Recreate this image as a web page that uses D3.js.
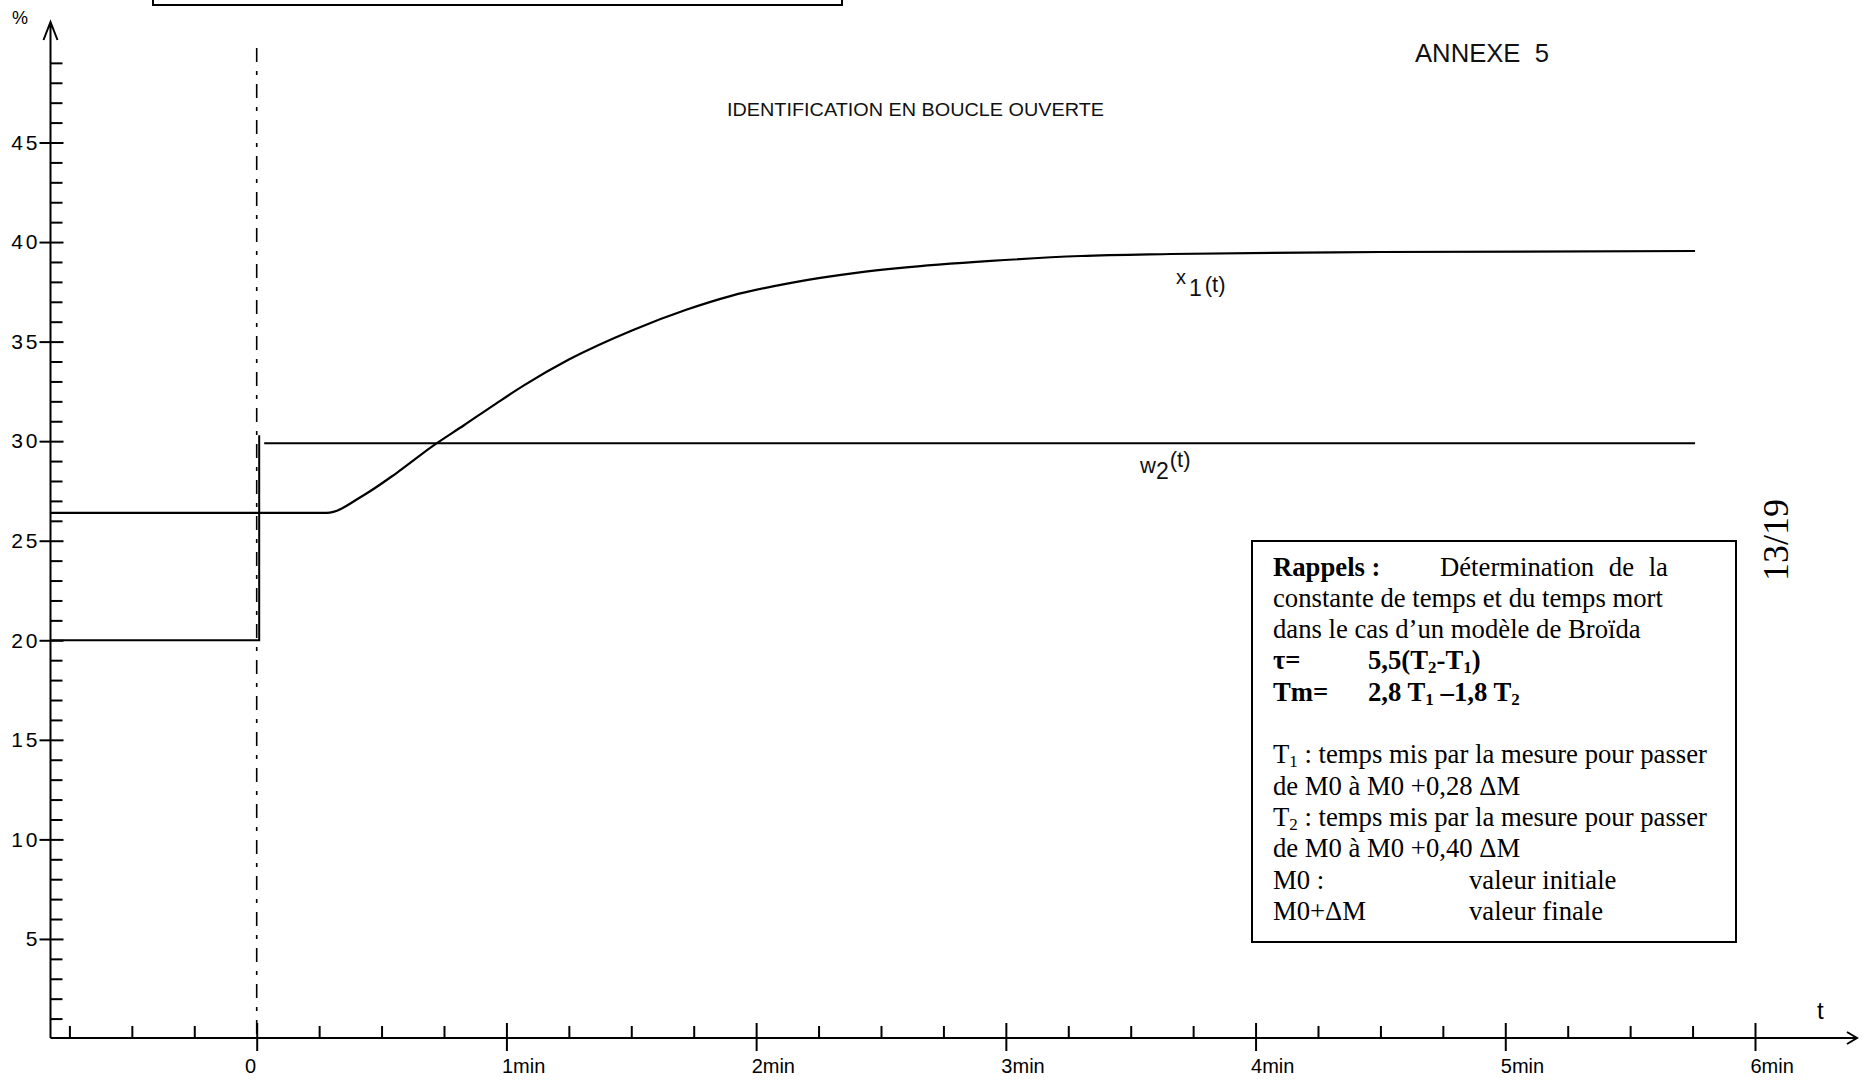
<!DOCTYPE html>
<html>
<head>
<meta charset="utf-8">
<script src="https://cdn.jsdelivr.net/npm/d3@7"></script>
<style>
  body { margin: 0; background: #fff; }
  svg { display: block; }
</style>
</head>
<body>
<script>
// axis ticks
const timeTicks = [0, 1, 2, 3, 4, 5, 6];
const timeLabels = ["0", "1min", "2min", "3min", "4min", "5min", "6min"];
const percentTicks = [5, 10, 15, 20, 25, 30, 35, 40, 45];
const percentLabels = ["5", "10", "15", "20", "25", "30", "35", "40", "45"];

// x1(t) : measured value (minutes, %)
const x1Time  = [-0.828, 0.28, 0.43, 0.56, 0.71, 0.83, 0.96, 1.07, 1.25, 1.51, 1.72, 1.90, 2.14, 2.40, 2.58, 2.94, 3.30, 3.66, 4.50, 5.76];
const x1Value = [26.4, 26.4, 27.3, 28.4, 29.8, 30.8, 31.9, 32.8, 34.1, 35.6, 36.6, 37.3, 37.95, 38.45, 38.7, 39.05, 39.3, 39.4, 39.5, 39.55];

// w2(t) : setpoint step
const w2Time  = [-0.828, 0.01, 0.01, NaN, 0.03, 5.76];
const w2Value = [20, 20, 30.3, NaN, 29.9, 29.9];

const width = 1872;
const height = 1082;
const axisY = 1038;
const axisX = 50.5;
const sans = '"Liberation Sans", Arial, sans-serif';
const serif = '"Liberation Serif", "Times New Roman", serif';

const svg = d3.select('body')
  .append('svg')
  .attr('width', width)
  .attr('height', height)
  .style('background', '#fff');

const x = d3.scaleLinear().domain([0, 6]).range([256.7, 1755]);
const y = d3.scaleLinear().domain([0, 45]).range([1038.5, 142.5]);

// box cut off at the top of the page
svg.append('rect')
  .attr('x', 153).attr('y', -10)
  .attr('width', 689).attr('height', 15)
  .attr('fill', 'none').attr('stroke', '#000').attr('stroke-width', 2);

// ---- x axis
const gx = svg.append('g')
  .attr('transform', `translate(0,${axisY})`)
  .call(d3.axisBottom(x)
    .tickValues(timeTicks)
    .tickFormat((d, i) => timeLabels[i])
    .tickSize(13));
gx.select('.domain').remove();
gx.selectAll('.tick line').attr('y1', -15).attr('stroke', '#000').attr('stroke-width', 2);
gx.selectAll('.tick text')
  .attr('y', 35).attr('dy', null)
  .attr('x', (d, i) => i === 0 ? -1 : -5)
  .attr('text-anchor', (d, i) => i === 0 ? 'end' : 'start')
  .attr('fill', '#000')
  .style('font', `20px ${sans}`);

const timeMinor = d3.range(-0.75, 6, 0.25).filter(d => Math.abs(d - Math.round(d)) > 0.01);
const gxm = svg.append('g')
  .attr('transform', `translate(0,${axisY})`)
  .call(d3.axisTop(x).tickValues(timeMinor).tickSize(12).tickFormat(''));
gxm.select('.domain').remove();
gxm.selectAll('.tick line').attr('stroke', '#000').attr('stroke-width', 2);

svg.append('path')
  .attr('d', `M${axisX},${axisY}H1857M1847,${axisY - 6}L1857,${axisY}L1847,${axisY + 6}`)
  .attr('fill', 'none').attr('stroke', '#000').attr('stroke-width', 2);

svg.append('text')
  .attr('x', 1817).attr('y', 1019)
  .style('font', `24px ${sans}`)
  .text('t');

// ---- y axis
const gy = svg.append('g')
  .attr('transform', `translate(${axisX},0)`)
  .call(d3.axisLeft(y)
    .tickValues(percentTicks)
    .tickFormat((d, i) => percentLabels[i])
    .tickSize(11));
gy.select('.domain').remove();
gy.selectAll('.tick line').attr('x1', 13).attr('stroke', '#000').attr('stroke-width', 2);
gy.selectAll('.tick text')
  .attr('x', -10)
  .attr('fill', '#000')
  .style('letter-spacing', '3px')
  .style('font', `21px ${sans}`);

const percentMinor = d3.range(1, 50).filter(d => d % 5 !== 0);
const gym = svg.append('g')
  .attr('transform', `translate(${axisX},0)`)
  .call(d3.axisRight(y).tickValues(percentMinor).tickSize(12).tickFormat(''));
gym.select('.domain').remove();
gym.selectAll('.tick line').attr('stroke', '#000').attr('stroke-width', 2);

svg.append('path')
  .attr('d', `M${axisX},${axisY}V22M${axisX - 7},40L${axisX},22L${axisX + 7},40`)
  .attr('fill', 'none').attr('stroke', '#000').attr('stroke-width', 2);

svg.append('text')
  .attr('x', 12).attr('y', 24)
  .style('font', `18px ${sans}`)
  .text('%');

// ---- t = 0 marker (dash-dot)
svg.append('line')
  .attr('x1', x(0)).attr('x2', x(0))
  .attr('y1', 48).attr('y2', axisY)
  .attr('stroke', '#000').attr('stroke-width', 1.6)
  .attr('stroke-dasharray', '14,9,4,9');

// ---- curves
const line = d3.line()
  .defined(d => !isNaN(d.t))
  .x(d => x(d.t))
  .y(d => y(d.v));

const w2 = w2Time.map((t, i) => ({ t: t, v: w2Value[i] }));
svg.append('path')
  .datum(w2)
  .attr('fill', 'none').attr('stroke', '#000').attr('stroke-width', 2)
  .attr('d', line);

const x1 = x1Time.map((t, i) => ({ t: t, v: x1Value[i] }));
svg.append('path')
  .datum(x1)
  .attr('fill', 'none').attr('stroke', '#000').attr('stroke-width', 2.2)
  .attr('d', line.curve(d3.curveMonotoneX));

// curve labels
const lx1 = svg.append('text')
  .attr('x', 1176).attr('y', 284)
  .style('font', `20px ${sans}`).attr('fill', '#111');
lx1.append('tspan').text('x');
lx1.append('tspan').attr('dx', 3).attr('dy', 12).style('font-size', '23px').text('1');
lx1.append('tspan').attr('dx', 3).attr('dy', -4).style('font-size', '22px').text('(t)');

const lw2 = svg.append('text')
  .attr('x', 1140).attr('y', 473)
  .style('font', `22px ${sans}`).attr('fill', '#111');
lw2.append('tspan').text('w');
lw2.append('tspan').attr('dy', 6).style('font-size', '23px').text('2');
lw2.append('tspan').attr('dx', 1).attr('dy', -12).text('(t)');

// titles
svg.append('text')
  .attr('x', 727).attr('y', 116)
  .attr('textLength', 377).attr('lengthAdjust', 'spacingAndGlyphs')
  .style('font', `19px ${sans}`).attr('fill', '#111')
  .text('IDENTIFICATION EN BOUCLE OUVERTE');

svg.append('text')
  .attr('x', 1415).attr('y', 62)
  .attr('textLength', 134).attr('lengthAdjust', 'spacingAndGlyphs')
  .style('font', `26px ${sans}`).attr('fill', '#111')
  .style('white-space', 'pre')
  .text('ANNEXE  5');

// page number
svg.append('text')
  .attr('transform', 'translate(1788,540) rotate(-90)')
  .attr('text-anchor', 'middle')
  .style('font', `36px ${serif}`)
  .text('13/19');

// ---- reminder box
svg.append('rect')
  .attr('x', 1252).attr('y', 541)
  .attr('width', 484).attr('height', 401)
  .attr('fill', 'none').attr('stroke', '#000').attr('stroke-width', 2);

// [x, parts, extra word spacing]
const boxLines = [
  [[1273, [['Rappels :', 'b']]], [1440, [['Détermination de la']], 8]],
  [[1273, [['constante de temps et du temps mort']]]],
  [[1273, [['dans le cas d’un modèle de Broïda']]]],
  [[1273, [['τ=', 'b']]], [1368, [['5,5(T', 'b'], ['2', 'bs'], ['-T', 'b'], ['1', 'bs'], [')', 'b']]]],
  [[1273, [['Tm=', 'b']]], [1368, [['2,8 T', 'b'], ['1', 'bs'], [' –1,8 T', 'b'], ['2', 'bs']]]],
  [],
  [[1273, [['T'], ['1', 's'], [' : temps mis par la mesure pour passer']]]],
  [[1273, [['de M0 à M0 +0,28 ΔM']]]],
  [[1273, [['T'], ['2', 's'], [' : temps mis par la mesure pour passer']]]],
  [[1273, [['de M0 à M0 +0,40 ΔM']]]],
  [[1273, [['M0 :']]], [1469, [['valeur initiale']]]],
  [[1273, [['M0+ΔM']]], [1469, [['valeur finale']]]]
];

boxLines.forEach((row, r) => {
  const base = 575.5 + r * 31.3;
  row.forEach(([px, parts, wordGap]) => {
    const t = svg.append('text')
      .attr('x', px).attr('y', base)
      .style('font-family', serif).style('font-size', '26.7px')
      .style('white-space', 'pre');
    if (wordGap) t.style('word-spacing', wordGap + 'px');
    let shifted = false;
    parts.forEach(([s, f]) => {
      const ts = t.append('tspan').text(s);
      if (f && f.includes('b')) ts.style('font-weight', 'bold');
      if (f && f.includes('s')) {
        ts.style('font-size', '17px').attr('dy', shifted ? 0 : 4);
        shifted = true;
      } else if (shifted) {
        ts.attr('dy', -4);
        shifted = false;
      }
    });
  });
});
</script>
</body>
</html>
